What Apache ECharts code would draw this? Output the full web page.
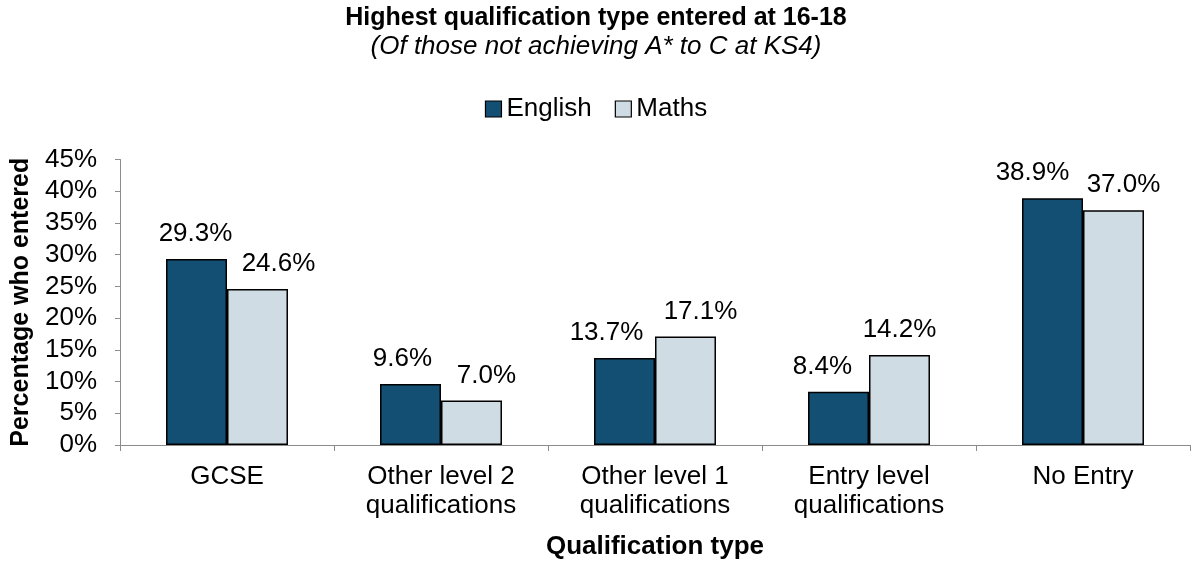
<!DOCTYPE html>
<html>
<head>
<meta charset="utf-8">
<script src="https://cdn.jsdelivr.net/npm/echarts@6/dist/echarts.min.js"></script>
<style>html,body{margin:0;padding:0;background:#fff}#c{width:1192px;height:562px}</style>
</head>
<body>
<div id="c"></div>
<script>
const categories = ["GCSE", "Other level 2\nqualifications", "Other level 1\nqualifications", "Entry level\nqualifications", "No Entry"];
const english = [29.3, 9.6, 13.7, 8.4, 38.9];
const maths = [24.6, 7.0, 17.1, 14.2, 37.0];
const yTicks = [0, 5, 10, 15, 20, 25, 30, 35, 40, 45];

const englishLabelShift = [-1, -8, -18, -16, -20];
const mathsLabelShift = [21, 15, 15, 0, 10];

const font = "'Liberation Sans', Arial, sans-serif";
const chart = echarts.init(document.getElementById('c'), null, {renderer: 'canvas'});

function withLabels(vals, shifts) {
  return vals.map((v, i) => ({value: v, label: {offset: [shifts[i], 0]}}));
}

chart.setOption({
  animation: false,
  textStyle: {fontFamily: font},
  title: {
    text: 'Highest qualification type entered at 16-18',
    subtext: '(Of those not achieving A* to C at KS4)',
    left: 'center', top: 1, itemGap: 3,
    textStyle: {fontFamily: font, fontSize: 25, fontWeight: 'bold', color: '#000'},
    subtextStyle: {fontFamily: font, fontSize: 26, fontStyle: 'italic', color: '#000'}
  },
  legend: {
    top: 91, left: 'center', itemWidth: 16, itemHeight: 16, itemGap: 23,
    icon: 'rect',
    itemStyle: {borderColor: '#000', borderWidth: 1.2},
    textStyle: {fontFamily: font, fontSize: 26, color: '#000', padding: [0, 0, 0, 0]},
    data: ['English', 'Maths']
  },
  grid: {left: 120, right: 2, top: 159.5, bottom: 117, containLabel: false, outerBoundsMode: 'none'},
  xAxis: {
    type: 'category', data: categories,
    name: 'Qualification type', nameLocation: 'middle', nameGap: 89,
    nameTextStyle: {fontFamily: font, fontSize: 26, fontWeight: 'bold', color: '#000'},
    axisLine: {lineStyle: {color: '#8c8c8c', width: 1}},
    axisTick: {show: true, length: 6, lineStyle: {color: '#8c8c8c'}},
    axisLabel: {fontFamily: font, fontSize: 26, color: '#000', margin: 17, lineHeight: 29, interval: 0}
  },
  yAxis: {
    type: 'value', min: 0, max: 45, interval: 5,
    name: 'Percentage who entered', nameLocation: 'middle', nameGap: 85, nameRotate: 90,
    nameTextStyle: {fontFamily: font, fontSize: 25, fontWeight: 'bold', color: '#000'},
    axisLine: {show: true, lineStyle: {color: '#8c8c8c', width: 1}},
    axisTick: {show: true, length: 5, lineStyle: {color: '#8c8c8c'}},
    splitLine: {show: false},
    axisLabel: {fontFamily: font, fontSize: 26, color: '#000', margin: 23,
      formatter: v => yTicks.includes(v) ? v + '%' : ''}
  },
  series: [
    {
      name: 'English', type: 'bar', data: withLabels(english, englishLabelShift),
      barGap: '0%', barCategoryGap: '43%',
      itemStyle: {color: '#134F73', borderColor: '#000', borderWidth: 1.5},
      label: {show: true, position: 'top', distance: 12, fontFamily: font, fontSize: 26, color: '#000',
        formatter: p => p.value.toFixed(1) + '%'}
    },
    {
      name: 'Maths', type: 'bar', data: withLabels(maths, mathsLabelShift),
      barGap: '0%', barCategoryGap: '43%',
      itemStyle: {color: '#CFDCE4', borderColor: '#000', borderWidth: 1.5},
      label: {show: true, position: 'top', distance: 12, fontFamily: font, fontSize: 26, color: '#000',
        formatter: p => p.value.toFixed(1) + '%'}
    }
  ]
});
</script>
</body>
</html>
